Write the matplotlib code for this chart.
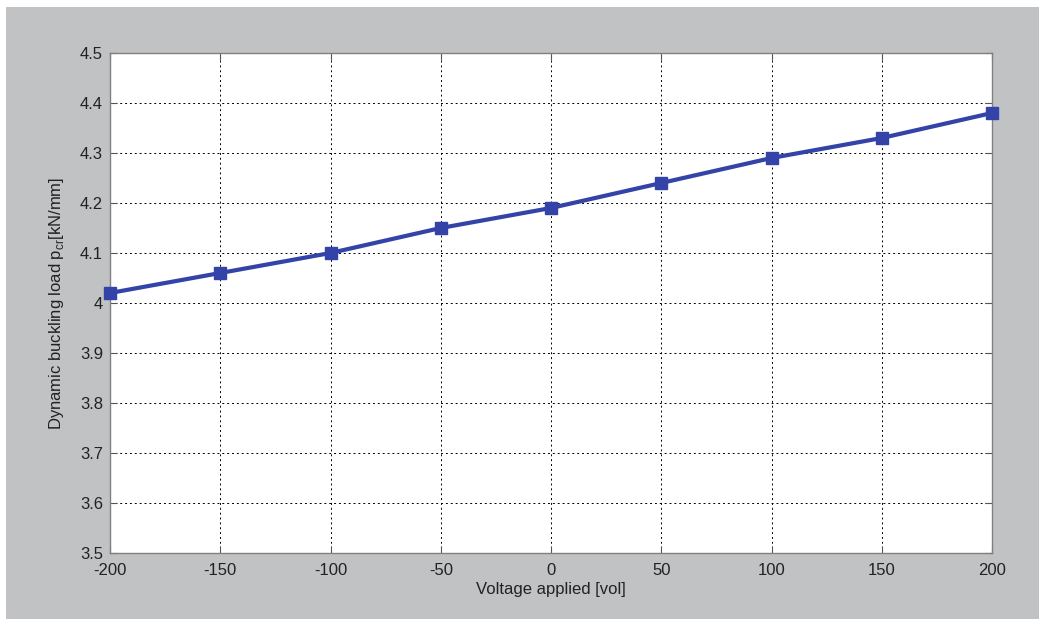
import matplotlib
matplotlib.use("Agg")
import matplotlib.pyplot as plt
from matplotlib.patches import Rectangle

voltage = [-200, -150, -100, -50, 0, 50, 100, 150, 200]
load = [4.02, 4.06, 4.10, 4.15, 4.19, 4.24, 4.29, 4.33, 4.38]
xticks = [-200, -150, -100, -50, 0, 50, 100, 150, 200]
yticks = [3.5, 3.6, 3.7, 3.8, 3.9, 4.0, 4.1, 4.2, 4.3, 4.4, 4.5]
ytick_labels = ["3.5", "3.6", "3.7", "3.8", "3.9", "4", "4.1", "4.2", "4.3", "4.4", "4.5"]

plt.rcParams['font.family'] = ['Liberation Sans', 'DejaVu Sans']
plt.rcParams['axes.unicode_minus'] = False
plt.rcParams['mathtext.fontset'] = 'custom'
plt.rcParams['mathtext.rm'] = 'Liberation Sans'

W, H = 1039, 619
fig = plt.figure(figsize=(W/100, H/100), dpi=100)
fig.patch.set_facecolor('white')
bg = Rectangle((6/W, 0), 1 - 6/W, (H - 7)/H, transform=fig.transFigure,
               facecolor='#c1c2c4', edgecolor='none', zorder=-10)
fig.add_artist(bg)

ax = fig.add_axes([110/W, (H - 553)/H, (992 - 110)/W, (553 - 53)/H])
ax.set_zorder(5)
ax.set_facecolor('white')
ax.plot(voltage, load, color='#3343a8', lw=3, marker='s', markersize=9,
        markerfacecolor='#3343a8', markeredgecolor='#3343a8', clip_on=False, zorder=3)
ax.set_xlim(-200, 200)
ax.set_ylim(3.5, 4.5)
ax.set_xticks(xticks)
ax.set_yticks(yticks)
ax.set_yticklabels(ytick_labels)
ax.grid(True, color='black', linestyle=(0, (2, 3)), linewidth=0.7)
ax.tick_params(direction='in', length=5, width=0.8, color='#555555', labelsize=12,
               top=True, right=True, labelcolor='#222222')
ax.tick_params(axis='x', pad=7)
ax.tick_params(axis='y', pad=5)
for s in ax.spines.values():
    s.set_color('#808080')
    s.set_linewidth(1)
ax.set_xlabel('Voltage applied [vol]', fontsize=12, color='#222222', labelpad=3)
ax.set_ylabel('Dynamic buckling load p$_{\\mathregular{cr}}$[kN/mm]', fontsize=12,
              color='#222222', labelpad=10)

fig.savefig('out.png', dpi=100, facecolor=fig.get_facecolor())
